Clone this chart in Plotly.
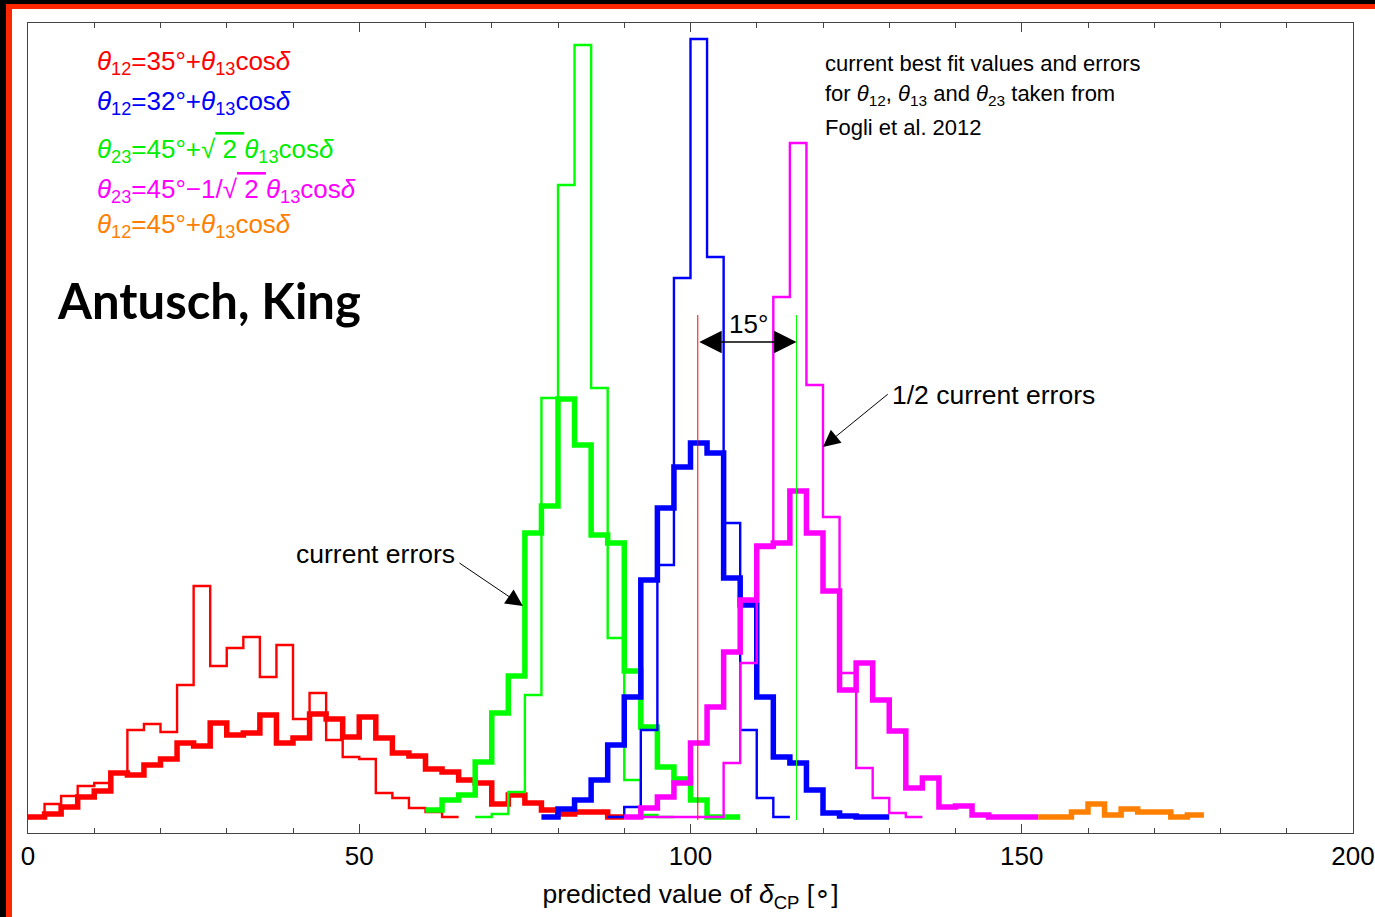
import plotly.graph_objects as go

# ---------------- data (relative frequencies, arbitrary units) ----------------
bin_width = 2.5

red_thick_start = 0.0
red_thick = [1, 4, 11, 21, 27, 45, 43, 53, 59, 75, 72, 95, 83, 85, 103, 75, 80, 104,
             99, 81, 101, 80, 65, 62, 49, 46, 38, 35, 14, 23, 15, 8, 4, 6, 6, 1]
red_thin_start = 0.0
red_thin = [1, 14, 22, 32, 35, 45, 88, 94, 86, 133, 232, 152, 170, 181, 141, 173, 99,
            125, 78, 61, 59, 25, 20, 10, 6, 1]

green_thick_start = 60.0
green_thick = [8, 18, 23, 56, 105, 142, 285, 312, 419, 373, 283, 275, 147, 91, 51, 39,
               18, 1, 1]
green_thin_start = 67.5
green_thin = [1, 4, 26, 123, 420, 633, 773, 430, 180, 38, 3, 1]

blue_thick_start = 77.5
blue_thick = [1, 9, 18, 38, 73, 121, 238, 310, 351, 375, 365, 240, 213, 121, 61, 55,
              28, 5, 2, 1, 1]
blue_thin_start = 87.5
blue_thin = [1, 11, 88, 253, 540, 779, 561, 295, 88, 20, 1]

magenta_thick_start = 90.0
magenta_thick = [1, 10, 21, 35, 75, 111, 166, 218, 272, 275, 327, 285, 227, 128, 155,
                 118, 87, 30, 40, 11, 12, 3, 1, 1, 1]
magenta_thin_start = 90.0
magenta_thin = [1, 1, 1, 1, 1, 1, 55, 155, 270, 521, 675, 433, 301, 145, 50, 20, 5, 1]

orange_start = 152.5
orange = [1, 1, 6, 14, 3, 9, 6, 6, 1, 3]

best_fit_red = 101.1
best_fit_green = 116.0

x_ticks = [0, 50, 100, 150, 200]

legend_lines = [
    ("<i>θ</i><sub>12</sub>=35°+<i>θ</i><sub>13</sub>cos<i>δ</i>", "#ff0000"),
    ("<i>θ</i><sub>12</sub>=32°+<i>θ</i><sub>13</sub>cos<i>δ</i>", "#0000ff"),
    ("<i>θ</i><sub>23</sub>=45°+√<span style='text-decoration:overline'> 2 </span><i>θ</i><sub>13</sub>cos<i>δ</i>", "#00ee00"),
    ("<i>θ</i><sub>23</sub>=45°−1/√<span style='text-decoration:overline'> 2 </span><i>θ</i><sub>13</sub>cos<i>δ</i>", "#ff00ff"),
    ("<i>θ</i><sub>12</sub>=45°+<i>θ</i><sub>13</sub>cos<i>δ</i>", "#ff8000"),
]
legend_y = [756, 716, 668, 628, 593]

FONT = "Liberation Sans, Arial, Helvetica, sans-serif"


def step_trace(start, vals, color, width):
    xs = [start + bin_width * i for i in range(len(vals) + 1)]
    ys = list(vals) + [vals[-1]]
    return go.Scatter(x=xs, y=ys, mode="lines", line=dict(color=color, width=width, shape="hv"),
                      hoverinfo="skip", showlegend=False)


fig = go.Figure()
THICK = 5.5
THIN = 2.4
fig.add_trace(step_trace(red_thin_start, red_thin, "#ff0000", THIN))
fig.add_trace(step_trace(red_thick_start, red_thick, "#ff0000", THICK))
fig.add_trace(step_trace(green_thin_start, green_thin, "#00ff00", THIN))
fig.add_trace(step_trace(green_thick_start, green_thick, "#00ff00", THICK))
fig.add_trace(step_trace(blue_thin_start, blue_thin, "#0000ff", THIN))
fig.add_trace(step_trace(blue_thick_start, blue_thick, "#0000ff", THICK))
fig.add_trace(step_trace(magenta_thin_start, magenta_thin, "#ff00ff", THIN))
fig.add_trace(step_trace(magenta_thick_start, magenta_thick, "#ff00ff", THICK))
fig.add_trace(step_trace(orange_start, orange, "#ff8000", THICK))

# best fit vertical lines
fig.add_trace(go.Scatter(x=[best_fit_red, best_fit_red], y=[-2, 503], mode="lines",
                         line=dict(color="#ff0000", width=1), hoverinfo="skip", showlegend=False))
fig.add_trace(go.Scatter(x=[best_fit_green, best_fit_green], y=[-2, 503], mode="lines",
                         line=dict(color="#00ff00", width=1), hoverinfo="skip", showlegend=False))

annotations = []
for (txt, col), yy in zip(legend_lines, legend_y):
    annotations.append(dict(x=10.1, y=yy, xref="x", yref="y", text=txt, showarrow=False,
                            xanchor="left", yanchor="middle",
                            font=dict(family=FONT, size=26, color=col)))

annotations.append(dict(x=4.0, y=518, xref="x", yref="y", text="<b>Antusch, King</b>",
                        showarrow=False, xanchor="left", yanchor="middle",
                        font=dict(family="Lato, Open Sans, sans-serif", size=49, color="black")))

for txt, yy in [("current best fit values and errors", 755),
                ("for <i>θ</i><sub>12</sub>, <i>θ</i><sub>13</sub> and <i>θ</i><sub>23</sub> taken from", 723),
                ("Fogli et al. 2012", 691)]:
    annotations.append(dict(x=120.0, y=yy, xref="x", yref="y", text=txt, showarrow=False,
                            xanchor="left", yanchor="middle",
                            font=dict(family=FONT, size=22, color="black")))

# 15 degree double arrow
annotations.append(dict(x=best_fit_green, y=476, ax=best_fit_red, ay=476, xref="x", yref="y",
                        axref="x", ayref="y", text="", showarrow=True, arrowhead=2,
                        arrowside="end+start", arrowsize=3.2, arrowwidth=1.4, arrowcolor="black"))
annotations.append(dict(x=108.8, y=494, xref="x", yref="y", text="15°", showarrow=False,
                        font=dict(family=FONT, size=26, color="black")))

# current errors
annotations.append(dict(x=74.7, y=212, ax=64.9, ay=256, xref="x", yref="y", axref="x", ayref="y",
                        text="", showarrow=True, arrowhead=2, arrowsize=3.4, arrowwidth=1.0,
                        arrowcolor="black"))
annotations.append(dict(x=64.8, y=264, xref="x", yref="y", text="current errors", showarrow=False,
                        xanchor="right", yanchor="middle",
                        font=dict(family=FONT, size=26.5, color="black")))
# 1/2 current errors
annotations.append(dict(x=120.0, y=371, ax=130.0, ay=425, xref="x", yref="y", axref="x", ayref="y",
                        text="", showarrow=True, arrowhead=2, arrowsize=3.4, arrowwidth=1.0,
                        arrowcolor="black"))
annotations.append(dict(x=130.1, y=423, xref="x", yref="y", text="1/2 current errors",
                        showarrow=False, xanchor="left", yanchor="middle",
                        font=dict(family=FONT, size=26.5, color="black")))

# slide border (black + red strips)
W, H = 1375.0, 917.0
L, R, T, B = 28, 22, 23, 84
pw, ph = W - L - R, H - T - B


def px(x):
    return (x - L) / pw


def py(y):
    return (H - B - y) / ph


shapes = [
    dict(type="rect", xref="paper", yref="paper", x0=px(0), x1=px(6), y0=py(917), y1=py(0),
         fillcolor="black", line=dict(width=0), layer="above"),
    dict(type="rect", xref="paper", yref="paper", x0=px(0), x1=px(1375), y0=py(4), y1=py(0),
         fillcolor="black", line=dict(width=0), layer="above"),
    dict(type="rect", xref="paper", yref="paper", x0=px(6), x1=px(12), y0=py(917), y1=py(4),
         fillcolor="#ff2600", line=dict(width=0), layer="above"),
    dict(type="rect", xref="paper", yref="paper", x0=px(6), x1=px(1375), y0=py(9), y1=py(4),
         fillcolor="#ff2600", line=dict(width=0), layer="above"),
]

fig.update_layout(
    width=1375, height=917,
    margin=dict(l=L, r=R, t=T, b=B, autoexpand=False),
    paper_bgcolor="white", plot_bgcolor="white",
    annotations=annotations, shapes=shapes,
    xaxis=dict(range=[0, 200], tickvals=x_ticks, ticks="inside", ticklen=9, tickwidth=1,
               tickcolor="#444", showline=True, linecolor="#444", linewidth=1, mirror="allticks",
               showgrid=False, zeroline=False, automargin=False,
               tickfont=dict(family=FONT, size=26, color="black"),
               minor=dict(dtick=10, ticks="inside", ticklen=5, tickcolor="#444", showgrid=False),
               title=dict(text="predicted value of <i>δ</i><sub>CP</sub> [∘]", standoff=14,
                          font=dict(family=FONT, size=26.5, color="black"))),
    yaxis=dict(range=[-15, 795], showticklabels=False, ticks="", showline=True, linecolor="#444",
               linewidth=1, mirror=True, showgrid=False, zeroline=False, automargin=False),
)

fig.write_html("out.html")
